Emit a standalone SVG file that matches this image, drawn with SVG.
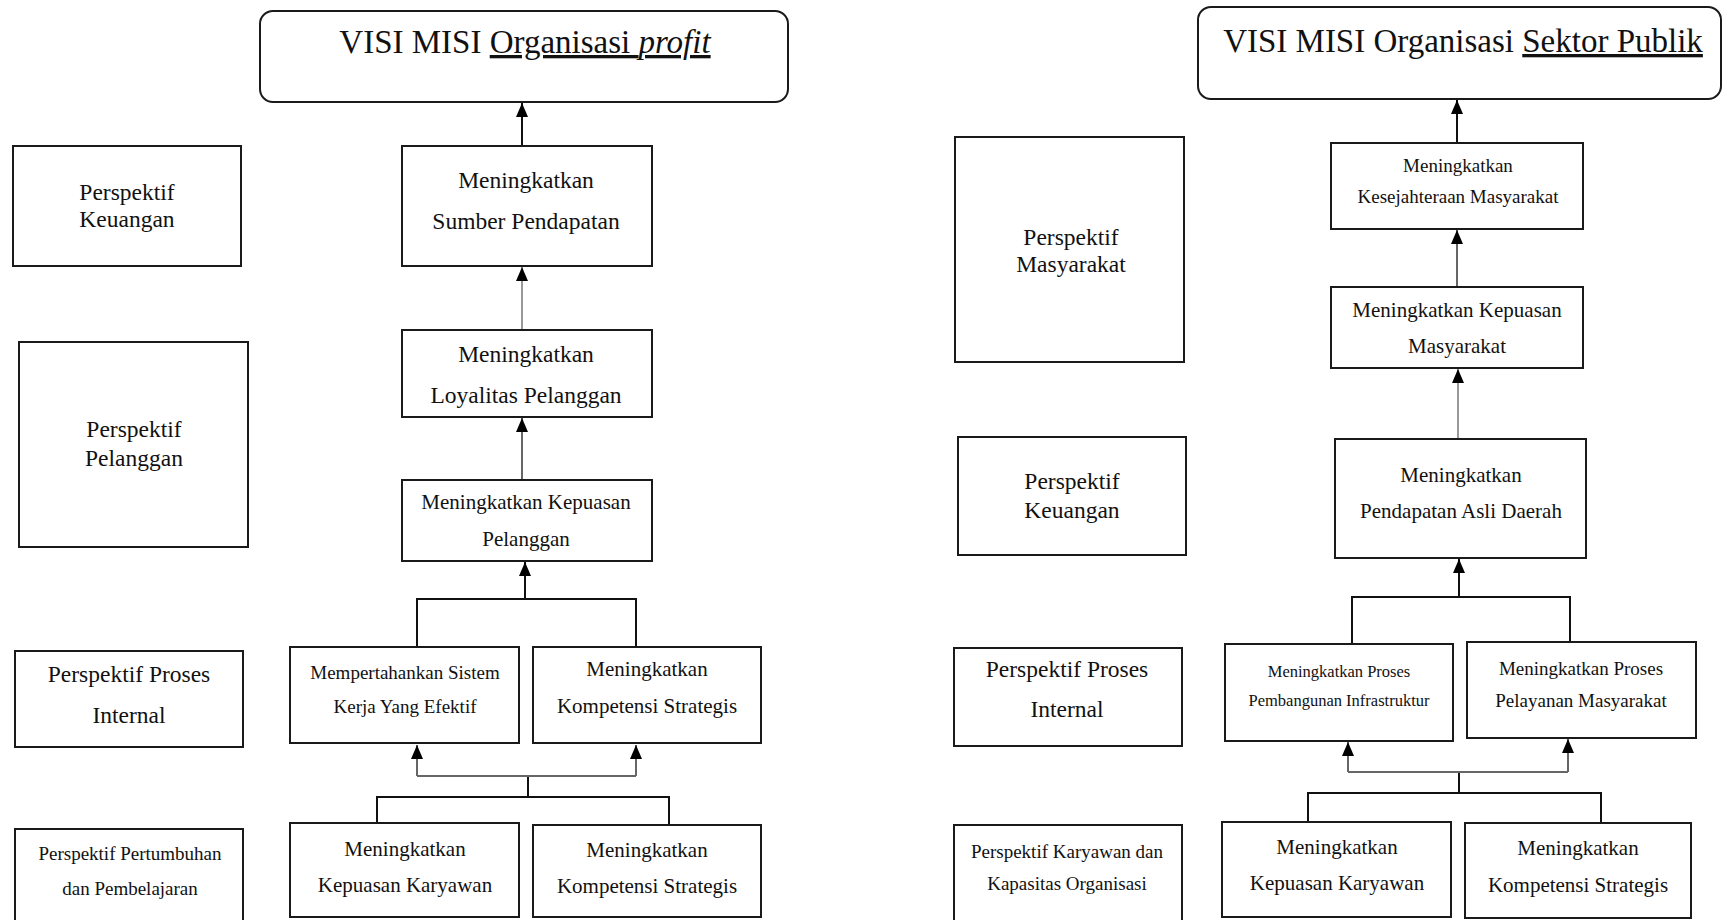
<svg xmlns="http://www.w3.org/2000/svg" width="1723" height="920" viewBox="0 0 1723 920">
<style>
.bx{fill:#fff;stroke:#1a1a1a;stroke-width:2}
.t{font-family:"Liberation Serif","Times New Roman",serif;fill:#111;text-anchor:middle}
.s24{font-size:23.5px}.s21{font-size:21px}.s19{font-size:19px}.s16{font-size:16.5px}
.ttl{font-size:33px}
.c{fill:none;stroke:#111;stroke-width:2}
.g1{fill:none;stroke:#999;stroke-width:2}
.g2{fill:none;stroke:#666;stroke-width:2}
</style>
<defs>
<marker id="ah" viewBox="0 0 14 12" markerWidth="14" markerHeight="12" refX="14" refY="6" orient="auto" markerUnits="userSpaceOnUse">
<path d="M0,0 L14,6 L0,12 z" fill="#000"/>
</marker>
</defs>
<rect width="1723" height="920" fill="#fff"/>

<g id="connectors">
<!-- left -->
<line class="c" x1="522" y1="146" x2="522" y2="103" marker-end="url(#ah)"/>
<line class="g1" x1="522" y1="330" x2="522" y2="267" marker-end="url(#ah)"/>
<line class="g2" x1="522" y1="480" x2="522" y2="418" marker-end="url(#ah)"/>
<path class="c" d="M417,647 V599 H636 V647"/>
<line class="c" x1="525" y1="599" x2="525" y2="562" marker-end="url(#ah)"/>
<path class="c" d="M377,823 V797 H669 V825"/>
<line class="c" x1="528" y1="797" x2="528" y2="776"/>
<path class="g2" d="M417,776 H636"/>
<line class="g2" x1="417" y1="776" x2="417" y2="745" marker-end="url(#ah)"/>
<line class="g2" x1="636" y1="776" x2="636" y2="745" marker-end="url(#ah)"/>
<!-- right -->
<line class="c" x1="1457" y1="143" x2="1457" y2="100" marker-end="url(#ah)"/>
<line class="g2" x1="1457" y1="287" x2="1457" y2="230" marker-end="url(#ah)"/>
<line class="g1" x1="1458" y1="439" x2="1458" y2="369" marker-end="url(#ah)"/>
<path class="c" d="M1352,644 V597 H1570 V642"/>
<line class="c" x1="1459" y1="597" x2="1459" y2="559" marker-end="url(#ah)"/>
<path class="c" d="M1308,822 V793 H1601 V823"/>
<line class="c" x1="1459" y1="793" x2="1459" y2="772"/>
<path class="g2" d="M1348,772 H1568"/>
<line class="g2" x1="1348" y1="772" x2="1348" y2="742" marker-end="url(#ah)"/>
<line class="g2" x1="1568" y1="772" x2="1568" y2="739" marker-end="url(#ah)"/>
</g>

<!-- LEFT DIAGRAM -->
<g id="visi-profit">
<rect class="bx" x="260" y="11" width="528" height="91" rx="13"/>
<text class="t ttl" x="525" y="53">VISI MISI <tspan text-decoration="underline">Organisasi <tspan font-style="italic">profit</tspan></tspan></text>
</g>
<g id="persp-keuangan-l">
<rect class="bx" x="13" y="146" width="228" height="120"/>
<text class="t s24" x="127" y="200">Perspektif</text>
<text class="t s24" x="127" y="227">Keuangan</text>
</g>
<g id="sumber-pendapatan">
<rect class="bx" x="402" y="146" width="250" height="120"/>
<text class="t s24" x="526" y="188">Meningkatkan</text>
<text class="t s24" x="526" y="229">Sumber Pendapatan</text>
</g>
<g id="persp-pelanggan">
<rect class="bx" x="19" y="342" width="229" height="205"/>
<text class="t s24" x="134" y="437">Perspektif</text>
<text class="t s24" x="134" y="466">Pelanggan</text>
</g>
<g id="loyalitas">
<rect class="bx" x="402" y="330" width="250" height="87"/>
<text class="t s24" x="526" y="362">Meningkatkan</text>
<text class="t s24" x="526" y="403">Loyalitas Pelanggan</text>
</g>
<g id="kepuasan-pelanggan">
<rect class="bx" x="402" y="480" width="250" height="81"/>
<text class="t s21" x="526" y="509">Meningkatkan Kepuasan</text>
<text class="t s21" x="526" y="546">Pelanggan</text>
</g>
<g id="persp-proses-l">
<rect class="bx" x="15" y="651" width="228" height="96"/>
<text class="t s24" x="129" y="682">Perspektif Proses</text>
<text class="t s24" x="129" y="723">Internal</text>
</g>
<g id="sistem-kerja">
<rect class="bx" x="290" y="647" width="229" height="96"/>
<text class="t s19" x="405" y="679">Mempertahankan Sistem</text>
<text class="t s19" x="405" y="713">Kerja Yang Efektif</text>
</g>
<g id="kompetensi-proses-l">
<rect class="bx" x="533" y="647" width="228" height="96"/>
<text class="t s21" x="647" y="676">Meningkatkan</text>
<text class="t s21" x="647" y="713">Kompetensi Strategis</text>
</g>
<g id="persp-pertumbuhan">
<rect class="bx" x="15" y="829" width="228" height="100"/>
<text class="t s19" x="130" y="860">Perspektif Pertumbuhan</text>
<text class="t s19" x="130" y="895">dan Pembelajaran</text>
</g>
<g id="kepuasan-karyawan-l">
<rect class="bx" x="290" y="823" width="229" height="94"/>
<text class="t s21" x="405" y="856">Meningkatkan</text>
<text class="t s21" x="405" y="892">Kepuasan Karyawan</text>
</g>
<g id="kompetensi-l">
<rect class="bx" x="533" y="825" width="228" height="92"/>
<text class="t s21" x="647" y="857">Meningkatkan</text>
<text class="t s21" x="647" y="893">Kompetensi Strategis</text>
</g>

<!-- RIGHT DIAGRAM -->
<g id="visi-publik">
<rect class="bx" x="1198" y="7" width="523" height="92" rx="13"/>
<text class="t ttl" x="1463" y="52">VISI MISI Organisasi <tspan text-decoration="underline">Sektor Publik</tspan></text>
</g>
<g id="persp-masyarakat">
<rect class="bx" x="955" y="137" width="229" height="225"/>
<text class="t s24" x="1071" y="245">Perspektif</text>
<text class="t s24" x="1071" y="272">Masyarakat</text>
</g>
<g id="kesejahteraan">
<rect class="bx" x="1331" y="143" width="252" height="86"/>
<text class="t s19" x="1458" y="172">Meningkatkan</text>
<text class="t s19" x="1458" y="203">Kesejahteraan Masyarakat</text>
</g>
<g id="kepuasan-masyarakat">
<rect class="bx" x="1331" y="287" width="252" height="81"/>
<text class="t s21" x="1457" y="317">Meningkatkan Kepuasan</text>
<text class="t s21" x="1457" y="353">Masyarakat</text>
</g>
<g id="persp-keuangan-r">
<rect class="bx" x="958" y="437" width="228" height="118"/>
<text class="t s24" x="1072" y="489">Perspektif</text>
<text class="t s24" x="1072" y="518">Keuangan</text>
</g>
<g id="pad">
<rect class="bx" x="1335" y="439" width="251" height="119"/>
<text class="t s21" x="1461" y="482">Meningkatkan</text>
<text class="t s21" x="1461" y="518">Pendapatan Asli Daerah</text>
</g>
<g id="persp-proses-r">
<rect class="bx" x="954" y="648" width="228" height="98"/>
<text class="t s24" x="1067" y="677">Perspektif Proses</text>
<text class="t s24" x="1067" y="717">Internal</text>
</g>
<g id="infrastruktur">
<rect class="bx" x="1225" y="644" width="228" height="97"/>
<text class="t s16" x="1339" y="677">Meningkatkan Proses</text>
<text class="t s16" x="1339" y="706">Pembangunan Infrastruktur</text>
</g>
<g id="pelayanan">
<rect class="bx" x="1467" y="642" width="229" height="96"/>
<text class="t s19" x="1581" y="675">Meningkatkan Proses</text>
<text class="t s19" x="1581" y="707">Pelayanan Masyarakat</text>
</g>
<g id="persp-karyawan">
<rect class="bx" x="954" y="825" width="228" height="104"/>
<text class="t s19" x="1067" y="858">Perspektif Karyawan dan</text>
<text class="t s19" x="1067" y="890">Kapasitas Organisasi</text>
</g>
<g id="kepuasan-karyawan-r">
<rect class="bx" x="1222" y="822" width="229" height="95"/>
<text class="t s21" x="1337" y="854">Meningkatkan</text>
<text class="t s21" x="1337" y="890">Kepuasan Karyawan</text>
</g>
<g id="kompetensi-r">
<rect class="bx" x="1465" y="823" width="226" height="95"/>
<text class="t s21" x="1578" y="855">Meningkatkan</text>
<text class="t s21" x="1578" y="892">Kompetensi Strategis</text>
</g>
</svg>
